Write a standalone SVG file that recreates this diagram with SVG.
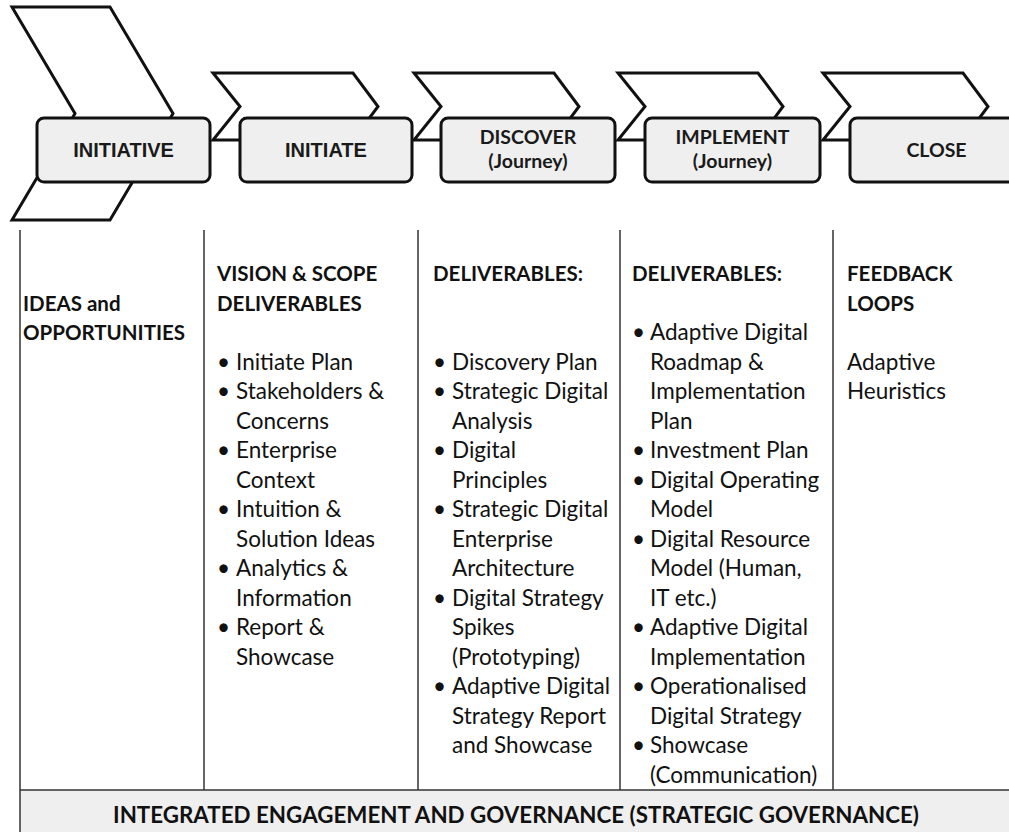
<svg xmlns="http://www.w3.org/2000/svg" width="1009" height="832" viewBox="0 0 1009 832">
<style>
.chev{fill:#fff;stroke:#111;stroke-width:3;stroke-linejoin:miter}
.box{fill:#efefef;stroke:#111;stroke-width:3}
.lbl{font-family:Lato,"Open Sans",sans-serif;font-weight:bold;font-size:19.5px;fill:#1a1a1a;text-anchor:middle}
.lbla{font-family:"Liberation Sans",Arial,sans-serif;font-weight:bold;font-size:20px;fill:#1a1a1a;text-anchor:middle}
.hd{font-family:Lato,"Open Sans",sans-serif;font-weight:bold;font-size:20.5px;fill:#111}
.tx{font-family:Lato,"Open Sans",sans-serif;font-size:22.5px;fill:#111}
.col{stroke:#333;stroke-width:1.5;fill:none}
.band{fill:#efefef}
</style>
<rect x="0" y="0" width="1009" height="832" fill="#fff"/>

<g id="stage-initiative">
<polygon class="chev" points="12,7 110,7 173,113.5 110,220 12,220 75,113.5"/>
<rect class="box" x="37" y="118" width="173" height="64" rx="7"/>
<text class="lbla" x="123.5" y="157">INITIATIVE</text>
</g>
<g id="stage-initiate">
<polygon class="chev" points="213,73 353,73 378,106.5 353,140 213,140 240,106.5"/>
<rect class="box" x="240" y="118" width="172" height="64" rx="7"/>
<text class="lbla" x="326" y="157">INITIATE</text>
</g>
<g id="stage-discover">
<polygon class="chev" points="414,73 554,73 579,106.5 554,140 414,140 441,106.5"/>
<rect class="box" x="441" y="118" width="174" height="64" rx="7"/>
<text class="lbl" x="528" y="144">DISCOVER</text>
<text class="lbl" x="528" y="168">(Journey)</text>
</g>
<g id="stage-implement">
<polygon class="chev" points="618,73 758,73 783,106.5 758,140 618,140 645,106.5"/>
<rect class="box" x="645" y="118" width="175" height="64" rx="7"/>
<text class="lbl" x="732.5" y="144">IMPLEMENT</text>
<text class="lbl" x="732.5" y="168">(Journey)</text>
</g>
<g id="stage-close">
<polygon class="chev" points="823,73 963,73 988,106.5 963,140 823,140 850,106.5"/>
<rect class="box" x="850" y="118" width="173" height="64" rx="7"/>
<text class="lbl" x="936.5" y="157">CLOSE</text>
</g>

<g id="connectors"></g>

<g id="table">
<rect class="band" x="20" y="790" width="995" height="45"/>
<line class="col" x1="20" y1="230" x2="20" y2="832"/>
<line class="col" x1="204" y1="230" x2="204" y2="790"/>
<line class="col" x1="418" y1="230" x2="418" y2="790"/>
<line class="col" x1="620" y1="230" x2="620" y2="790"/>
<line class="col" x1="833" y1="230" x2="833" y2="790"/>
<line class="col" x1="20" y1="790" x2="1009" y2="790"/>
</g>

<g id="col-initiative">
<text class="hd" x="23" y="310.5">IDEAS and</text>
<text class="hd" x="23" y="340">OPPORTUNITIES</text>
</g>

<g id="col-initiate">
<text class="hd" x="217" y="281">VISION &amp; SCOPE</text>
<text class="hd" x="217" y="310.5">DELIVERABLES</text>
<text class="tx" x="217" y="369.5">•</text><text class="tx" x="236" y="369.5">Initiate Plan</text>
<text class="tx" x="217" y="399">•</text><text class="tx" x="236" y="399">Stakeholders &amp;</text>
<text class="tx" x="236" y="428.5">Concerns</text>
<text class="tx" x="217" y="458">•</text><text class="tx" x="236" y="458">Enterprise</text>
<text class="tx" x="236" y="487.5">Context</text>
<text class="tx" x="217" y="517">•</text><text class="tx" x="236" y="517">Intuition &amp;</text>
<text class="tx" x="236" y="546.5">Solution Ideas</text>
<text class="tx" x="217" y="576">•</text><text class="tx" x="236" y="576">Analytics &amp;</text>
<text class="tx" x="236" y="605.5">Information</text>
<text class="tx" x="217" y="635">•</text><text class="tx" x="236" y="635">Report &amp;</text>
<text class="tx" x="236" y="664.5">Showcase</text>
</g>

<g id="col-discover">
<text class="hd" x="433" y="281">DELIVERABLES:</text>
<text class="tx" x="433" y="369.5">•</text><text class="tx" x="452" y="369.5">Discovery Plan</text>
<text class="tx" x="433" y="399">•</text><text class="tx" x="452" y="399">Strategic Digital</text>
<text class="tx" x="452" y="428.5">Analysis</text>
<text class="tx" x="433" y="458">•</text><text class="tx" x="452" y="458">Digital</text>
<text class="tx" x="452" y="487.5">Principles</text>
<text class="tx" x="433" y="517">•</text><text class="tx" x="452" y="517">Strategic Digital</text>
<text class="tx" x="452" y="546.5">Enterprise</text>
<text class="tx" x="452" y="576">Architecture</text>
<text class="tx" x="433" y="605.5">•</text><text class="tx" x="452" y="605.5">Digital Strategy</text>
<text class="tx" x="452" y="635">Spikes</text>
<text class="tx" x="452" y="664.5">(Prototyping)</text>
<text class="tx" x="433" y="694">•</text><text class="tx" x="452" y="694">Adaptive Digital</text>
<text class="tx" x="452" y="723.5">Strategy Report</text>
<text class="tx" x="452" y="753">and Showcase</text>
</g>

<g id="col-implement">
<text class="hd" x="632" y="281">DELIVERABLES:</text>
<text class="tx" x="632" y="340">•</text><text class="tx" x="650" y="340">Adaptive Digital</text>
<text class="tx" x="650" y="369.5">Roadmap &amp;</text>
<text class="tx" x="650" y="399">Implementation</text>
<text class="tx" x="650" y="428.5">Plan</text>
<text class="tx" x="632" y="458">•</text><text class="tx" x="650" y="458">Investment Plan</text>
<text class="tx" x="632" y="487.5">•</text><text class="tx" x="650" y="487.5">Digital Operating</text>
<text class="tx" x="650" y="517">Model</text>
<text class="tx" x="632" y="546.5">•</text><text class="tx" x="650" y="546.5">Digital Resource</text>
<text class="tx" x="650" y="576">Model (Human,</text>
<text class="tx" x="650" y="605.5">IT etc.)</text>
<text class="tx" x="632" y="635">•</text><text class="tx" x="650" y="635">Adaptive Digital</text>
<text class="tx" x="650" y="664.5">Implementation</text>
<text class="tx" x="632" y="694">•</text><text class="tx" x="650" y="694">Operationalised</text>
<text class="tx" x="650" y="723.5">Digital Strategy</text>
<text class="tx" x="632" y="753">•</text><text class="tx" x="650" y="753">Showcase</text>
<text class="tx" x="650" y="782.5">(Communication)</text>
</g>

<g id="col-close">
<text class="hd" x="847" y="281">FEEDBACK</text>
<text class="hd" x="847" y="310.5">LOOPS</text>
<text class="tx" x="847" y="369.5">Adaptive</text>
<text class="tx" x="847" y="399">Heuristics</text>
</g>

<g id="governance">
<text class="hd" x="113" y="823" style="font-size:22px" textLength="806" lengthAdjust="spacingAndGlyphs">INTEGRATED ENGAGEMENT AND GOVERNANCE (STRATEGIC GOVERNANCE)</text>
</g>
</svg>
